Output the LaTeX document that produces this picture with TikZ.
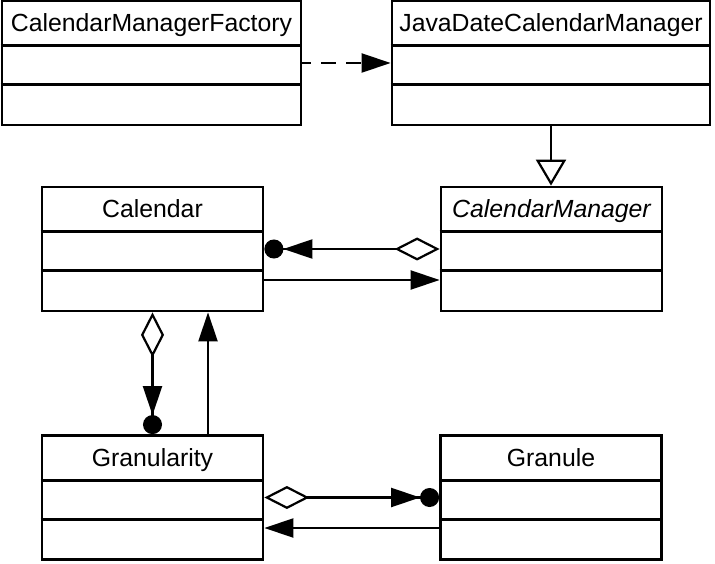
\documentclass[tikz,border=0pt]{standalone}
\usepackage{fontspec}
\setmainfont{Liberation Sans}
\usetikzlibrary{calc,arrows.meta}

\begin{document}
\begin{tikzpicture}[x=1pt,y=-1pt,
  umlclass/.style={draw,line width=2.8pt,minimum height=124pt,inner sep=0pt},
  sep/.style={line width=2.8pt},
  conn/.style={line width=2.2pt},
  nav/.style={-{Triangle[length=29pt,width=19pt]}},
  aggr/.style={{Diamond[open,length=45pt,width=23pt]}-{Triangle[length=29pt,width=19pt] Circle[length=19pt]}},
  font=\fontsize{24.8}{30}\selectfont]
\useasboundingbox (0,0) rectangle (715,564);
\foreach \n/\x/\y/\w/\t in {fac/151.5/63/299/CalendarManagerFactory,
  jdcm/551/63/318/JavaDateCalendarManager,
  cal/152.5/249/221/Calendar, cm/551.5/249/221/{\itshape CalendarManager},
  gran/152.5/497.5/221/Granularity, gle/551/497.5/221/Granule}{
  \node[umlclass,minimum width=\w pt] (\n) at (\x,\y) {};
  \node[anchor=base] (\n-title) at ($(\n.north)+(0,32)$) {\t};
  \draw[sep] ($(\n.north west)+(0,46)$) -- ($(\n.north east)+(0,46)$);
  \draw[sep] ($(\n.north west)+(0,85)$) -- ($(\n.north east)+(0,85)$);
}
\draw[conn,nav,dash pattern=on 15pt off 10pt,dash phase=6pt] (fac.east) -- (jdcm.west);
\draw[conn,-{Triangle[open,length=26pt,width=30pt]}] (jdcm.south) -- (jdcm.south |- cm.north);
\draw[conn,aggr] (cm.west) -- (cal.east);
\draw[conn,nav] ($(cal.east)+(0,31)$) -- ($(cm.west)+(0,31)$);
\draw[conn,aggr] (cal.south) -- (gran.north);
\draw[conn,nav] ($(gran.north)+(55.5,0)$) -- ($(cal.south)+(55.5,0)$);
\draw[conn,aggr] (gran.east) -- (gle.west);
\draw[conn,nav] ($(gle.west)+(0,30.5)$) -- ($(gran.east)+(0,30.5)$);
\end{tikzpicture}
\end{document}
